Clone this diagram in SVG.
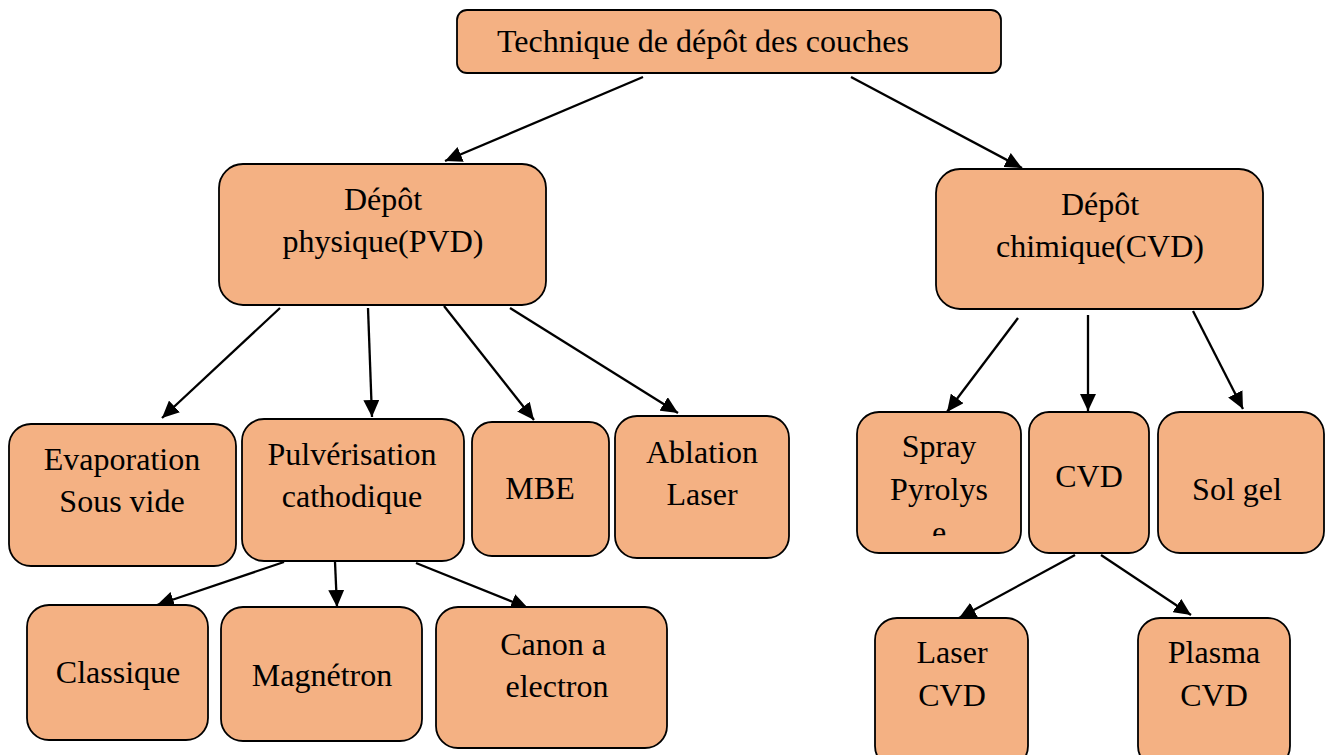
<svg xmlns="http://www.w3.org/2000/svg" width="1327" height="755" viewBox="0 0 1327 755">
<style>
.box{fill:#F4B183;stroke:#000;stroke-width:1.8}
.t{font-family:"Liberation Serif","Times New Roman",serif;font-size:32px;fill:#000;text-anchor:middle}
.c line{stroke:#000;stroke-width:2.3;marker-end:url(#ah)}
</style>
<defs>
<marker id="ah" markerUnits="userSpaceOnUse" markerWidth="18" markerHeight="16" refX="17" refY="8" orient="auto">
<path d="M0,0 L17,8 L0,16 z" fill="#000"/>
</marker>
<clipPath id="spclip"><rect x="857" y="412" width="164" height="124"/></clipPath>
</defs>
<rect width="1327" height="755" fill="#fff"/>
<g class="c" id="connectors">
<line x1="643" y1="77" x2="445" y2="161"/>
<line x1="851" y1="77" x2="1022" y2="168"/>
<line x1="280" y1="308" x2="162" y2="418"/>
<line x1="368" y1="308" x2="372" y2="417"/>
<line x1="444" y1="306" x2="534" y2="420"/>
<line x1="510" y1="308" x2="678" y2="413"/>
<line x1="1018" y1="318" x2="947" y2="412"/>
<line x1="1088" y1="315" x2="1088" y2="411"/>
<line x1="1193" y1="311" x2="1243" y2="409"/>
<line x1="284" y1="562" x2="157" y2="605"/>
<line x1="335" y1="562" x2="337" y2="607"/>
<line x1="416" y1="563" x2="528" y2="608"/>
<line x1="1075" y1="555" x2="959" y2="618"/>
<line x1="1101" y1="555" x2="1191" y2="615"/>
</g>
<g id="n-top"><rect class="box" x="457" y="10" width="544" height="63" rx="10"/><text class="t" x="497" y="52" style="text-anchor:start">Technique de dépôt des couches</text></g>
<g id="n-pvd"><rect class="box" x="219" y="164" width="327" height="141" rx="24"/><text class="t" x="383" y="210">Dépôt</text><text class="t" x="383" y="252">physique(PVD)</text></g>
<g id="n-cvdp"><rect class="box" x="936" y="169" width="327" height="140" rx="24"/><text class="t" x="1100" y="215">Dépôt</text><text class="t" x="1100" y="257">chimique(CVD)</text></g>
<g id="n-evap"><rect class="box" x="9" y="424" width="227" height="142" rx="22"/><text class="t" x="122" y="470">Evaporation</text><text class="t" x="122" y="512">Sous vide</text></g>
<g id="n-pulv"><rect class="box" x="242" y="419" width="222" height="142" rx="22"/><text class="t" x="352" y="465">Pulvérisation</text><text class="t" x="352" y="507">cathodique</text></g>
<g id="n-mbe"><rect class="box" x="472" y="422" width="137" height="134" rx="20"/><text class="t" x="540" y="499">MBE</text></g>
<g id="n-abl"><rect class="box" x="615" y="416" width="174" height="142" rx="22"/><text class="t" x="702" y="463">Ablation</text><text class="t" x="702" y="505">Laser</text></g>
<g id="n-spray"><rect class="box" x="857" y="412" width="164" height="141" rx="22"/><g clip-path="url(#spclip)"><text class="t" x="939" y="457">Spray</text><text class="t" x="939" y="500">Pyrolys</text><text class="t" x="939" y="543">e</text></g></g>
<g id="n-cvd"><rect class="box" x="1029" y="412" width="120" height="141" rx="20"/><text class="t" x="1089" y="487">CVD</text></g>
<g id="n-sol"><rect class="box" x="1158" y="412" width="166" height="141" rx="22"/><text class="t" x="1237" y="500">Sol gel</text></g>
<g id="n-class"><rect class="box" x="27" y="605" width="181" height="135" rx="22"/><text class="t" x="118" y="683">Classique</text></g>
<g id="n-mag"><rect class="box" x="221" y="607" width="201" height="134" rx="22"/><text class="t" x="322" y="686">Magnétron</text></g>
<g id="n-canon"><rect class="box" x="436" y="607" width="231" height="141" rx="22"/><text class="t" x="553" y="655">Canon a</text><text class="t" x="557" y="697">electron</text></g>
<g id="n-laser"><rect class="box" x="875" y="618" width="153" height="150" rx="22"/><text class="t" x="952" y="663">Laser</text><text class="t" x="952" y="706">CVD</text></g>
<g id="n-plasma"><rect class="box" x="1138" y="618" width="152" height="150" rx="22"/><text class="t" x="1214" y="663">Plasma</text><text class="t" x="1214" y="706">CVD</text></g>
</svg>
